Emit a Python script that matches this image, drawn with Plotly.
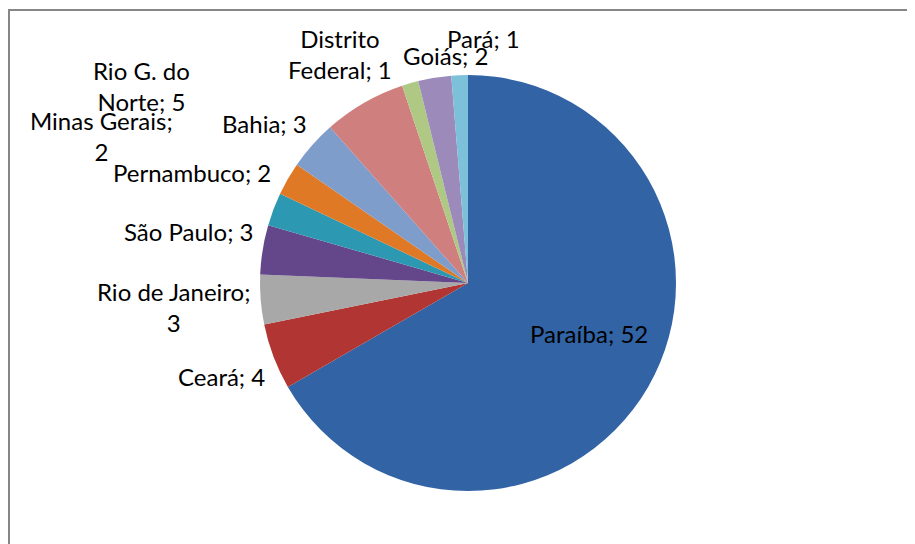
"""Pie chart: distribution by state (Excel-style recreation)."""

import plotly.graph_objects as go

W, H = 915, 544
OFF = 8  # the page body adds an 8px margin; shift everything back

states = [
    "Paraíba", "Ceará", "Rio de Janeiro", "São Paulo", "Pernambuco",
    "Minas Gerais", "Bahia", "Rio G. do Norte", "Distrito Federal",
    "Goiás", "Pará",
]
counts = [52, 4, 3, 3, 2, 2, 3, 5, 1, 2, 1]
# label text as Excel wrapped it
label_text = [
    "Paraíba; 52", "Ceará; 4", "Rio de Janeiro;<br>3", "São Paulo; 3",
    "Pernambuco; 2", "Minas Gerais;<br>2", "Bahia; 3", "Rio G. do<br>Norte; 5",
    "Distrito<br>Federal; 1", "Goiás; 2", "Pará; 1",
]

colors = [
    "#3163A5", "#B13532", "#A8A8A8", "#64478A", "#2D98B1", "#E07926",
    "#7F9DCB", "#CF7F7D", "#AFC985", "#9C8BBA", "#7DC0D9",
]
# label centres in page pixels (Excel "best fit" placement)
label_px = [
    (589, 333), (221, 376), (173, 307), (188, 231), (192, 172), (101, 136),
    (264, 123), (141, 86), (340, 54), (445, 55), (483, 38),
]

cx, cy, r = 468 - OFF, 283 - OFF, 208


def px_x(x):
    return (x - OFF) / W


def px_y(y):
    return 1 - (y - OFF) / H


fig = go.Figure(
    go.Pie(
        labels=states,
        values=counts,
        sort=False,
        direction="clockwise",
        rotation=0,
        marker={"colors": colors, "line": {"width": 0}},
        textinfo="none",
        hoverinfo="label+value",
        domain={
            "x": [(cx - r) / W, (cx + r) / W],
            "y": [1 - (cy + r) / H, 1 - (cy - r) / H],
        },
        showlegend=False,
    )
)

for txt, (lx, ly) in zip(label_text, label_px):
    fig.add_annotation(
        x=px_x(lx), y=px_y(ly), xref="paper", yref="paper",
        text=txt, showarrow=False, xanchor="center", yanchor="middle",
        align="center", font={"family": "Lato", "size": 24, "color": "#000000"},
    )

# outer chart frame (only left and top edges fall inside the picture)
fig.add_shape(
    type="rect", xref="paper", yref="paper",
    x0=px_x(9), x1=1.05, y0=-0.05, y1=px_y(10),
    line={"color": "#868686", "width": 2}, fillcolor="rgba(0,0,0,0)",
)

fig.update_layout(
    width=W, height=H,
    margin={"l": 0, "r": 0, "t": 0, "b": 0},
    paper_bgcolor="white", plot_bgcolor="white",
)

fig.write_html("out.html")
